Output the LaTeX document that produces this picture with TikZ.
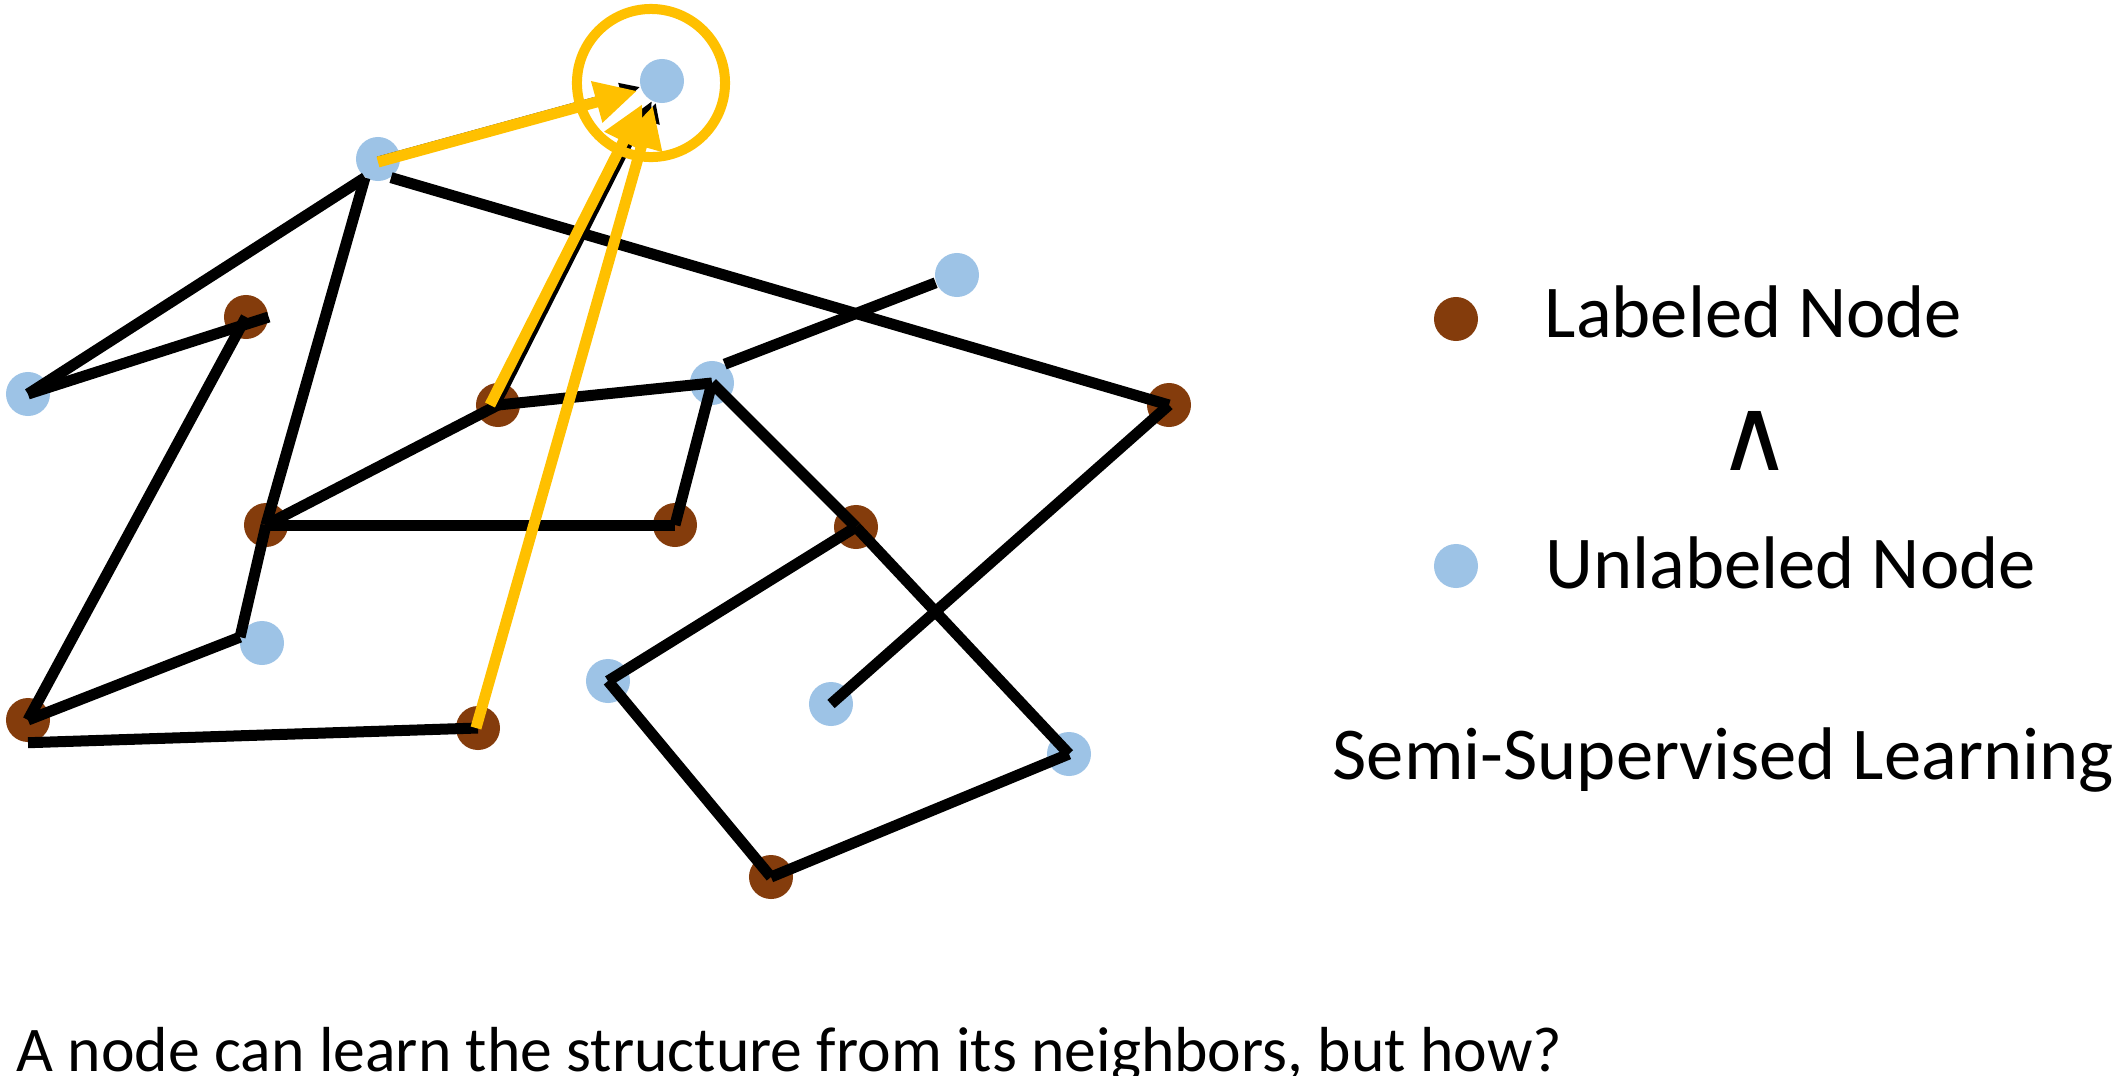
\documentclass[tikz,border=0pt]{standalone}
\usepackage{fontspec}
\setmainfont{Carlito}
\newfontfamily\symfont{DejaVu Sans}
\usepackage{xcolor}
\usepackage{tikz}
\usetikzlibrary{arrows.meta}

\definecolor{labeled}{HTML}{843C0C}
\definecolor{unlabeled}{HTML}{9DC3E6}
\definecolor{gold}{HTML}{FFC000}

\begin{document}
\begin{tikzpicture}[x=0.01cm, y=-0.01cm,
    lab/.style={circle, fill=labeled, minimum size=0.44cm, inner sep=0pt},
    unlab/.style={circle, fill=unlabeled, minimum size=0.44cm, inner sep=0pt},
    link/.style={line width=0.11cm, black},
    pull/.style={line width=0.05cm, black, -{Triangle[length=0.2cm, width=0.18cm]}},
    goldarrow/.style={line width=0.11cm, gold, shorten >=0.03cm, -{Triangle[length=0.42cm, width=0.4cm]}},
    ring/.style={circle, draw=gold, line width=0.1cm, minimum size=1.48cm, inner sep=0pt},
    txt/.style={anchor=base west, inner sep=0pt, font=\fontsize{21.2}{25}\selectfont}]
    \useasboundingbox (0,0) rectangle (2120,1075);

    % graph nodes
    \node[unlab] (T) at (662, 81) {};
    \node[unlab] (A) at (378, 159) {};
    \node[lab] (B) at (246, 317) {};
    \node[unlab] (C) at (28, 394) {};
    \node[lab] (D) at (498, 405) {};
    \node[unlab] (E) at (712, 383) {};
    \node[unlab] (F) at (957, 275) {};
    \node[lab] (G) at (1169, 405) {};
    \node[lab] (H) at (266, 525) {};
    \node[lab] (I) at (675, 525) {};
    \node[lab] (J) at (856, 527) {};
    \node[unlab] (K) at (262, 643) {};
    \node[lab] (L) at (28, 720) {};
    \node[lab] (M) at (478, 728) {};
    \node[unlab] (N) at (608, 681) {};
    \node[unlab] (O) at (831, 704) {};
    \node[unlab] (P) at (1069, 754) {};
    \node[lab] (Q) at (771, 877) {};

    % edges
    \draw[link] (A.235) -- (C.center);
    \draw[link] (B.east) -- (C.center);
    \draw[link] (A.235) -- (H.center);
    \draw[link] (A.305) -- (G.center);
    \draw[link] (B.center) -- (L.center);
    \draw[link] (H.center) -- (D.center);
    \draw[link] (D.center) -- (E.center);
    \draw[link] (E.56) -- (F.200);
    \draw[link] (E.center) -- (I.center);
    \draw[link] (E.center) -- (J.center);
    \draw[link] (H.center) -- (I.center);
    \draw[link] (H.center) -- (K.165);
    \draw[link] (K.165) -- (L.center);
    \draw[link] (L.south) -- (M.center);
    \draw[link] (J.center) -- (N.center);
    \draw[link] (J.center) -- (P.center);
    \draw[link] (G.center) -- (O.center);
    \draw[link] (N.center) -- (Q.center);
    \draw[link] (Q.center) -- (P.center);

    % messages to the focus node
    \draw[pull] (A.center) -- (T);
    \draw[pull] (D.center) -- (T);
    \draw[pull] (M.center) -- (T);
    \draw[goldarrow, transform canvas={yshift=-0.03cm}] (A.center) -- (T);
    \draw[goldarrow, transform canvas={xshift=-0.08cm}] (D.center) -- (T);
    \draw[goldarrow, transform canvas={xshift=-0.02cm}] (M.center) -- (T);
    \node[ring] (focus) at ([xshift=-0.11cm, yshift=-0.02cm]T.center) {};

    % legend
    \node[lab] (keylab) at (1456, 319) {};
    \node[unlab] (keyunlab) at (1456, 566) {};
    \node[txt] (labtext) at (1544, 337) {Labeled Node};
    \node[txt] (unlabtext) at (1545, 588) {Unlabeled Node};
    \node[inner sep=0pt, font=\symfont\fontsize{29}{30}\selectfont] (andsign) at (1755, 441) {∧};
    \node[txt] (semi) at (1332, 779) {Semi-Supervised Learning};
    \node[txt, font=\fontsize{18.1}{22}\selectfont] (question) at (16, 1071) {A node can learn the structure from its neighbors, but how?};
\end{tikzpicture}
\end{document}
